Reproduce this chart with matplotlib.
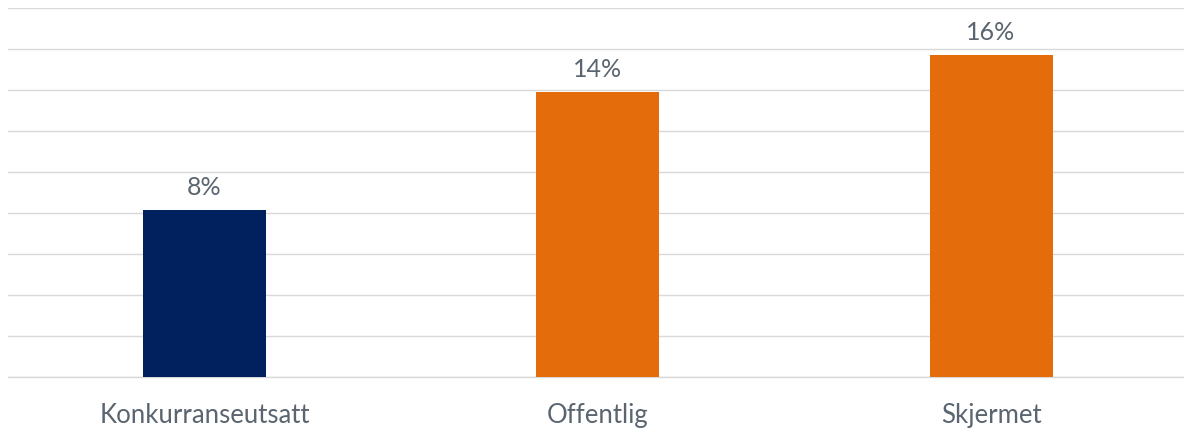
import matplotlib
matplotlib.use("Agg")
import matplotlib.pyplot as plt
import numpy as np

categories = ["Konkurranseutsatt", "Offentlig", "Skjermet"]
values = [8.15, 13.9, 15.7]
labels = ["8%", "14%", "16%"]
colors = ["#01215E", "#E46C0A", "#E46C0A"]

plt.rcParams['font.family'] = ['Lato', 'DejaVu Sans']
text_color = "#5A6570"

fig = plt.figure(figsize=(11.84, 4.30), dpi=100)
ax = fig.add_axes([8/1184, 53/430, 1176/1184, 369/430])

x = np.arange(len(categories))
bars = ax.bar(x, values, width=0.3126, color=colors, zorder=3)

ax.set_ylim(0, 18)
ax.set_xlim(-0.4994, 2.4905)
ax.set_yticks(np.arange(0, 19, 2))
ax.yaxis.grid(True, color="#D9D9D9", linewidth=1.0, zorder=0)
ax.tick_params(axis='y', left=False, labelleft=False)
ax.tick_params(axis='x', bottom=False, labelsize=18.5, labelcolor=text_color, pad=15)
ax.set_xticks(x)
ax.set_xticklabels(categories)
for s in ["top", "right", "left"]:
    ax.spines[s].set_visible(False)
ax.spines["bottom"].set_color("#D9D9D9")
ax.spines["bottom"].set_linewidth(1.0)

for b, lab in zip(bars, labels):
    ax.annotate(lab, (b.get_x() + b.get_width()/2, b.get_height()),
                xytext=(0, 10.8), textcoords="offset points",
                ha="center", va="baseline", fontsize=18, color=text_color)

fig.savefig("out.png", dpi=100)
